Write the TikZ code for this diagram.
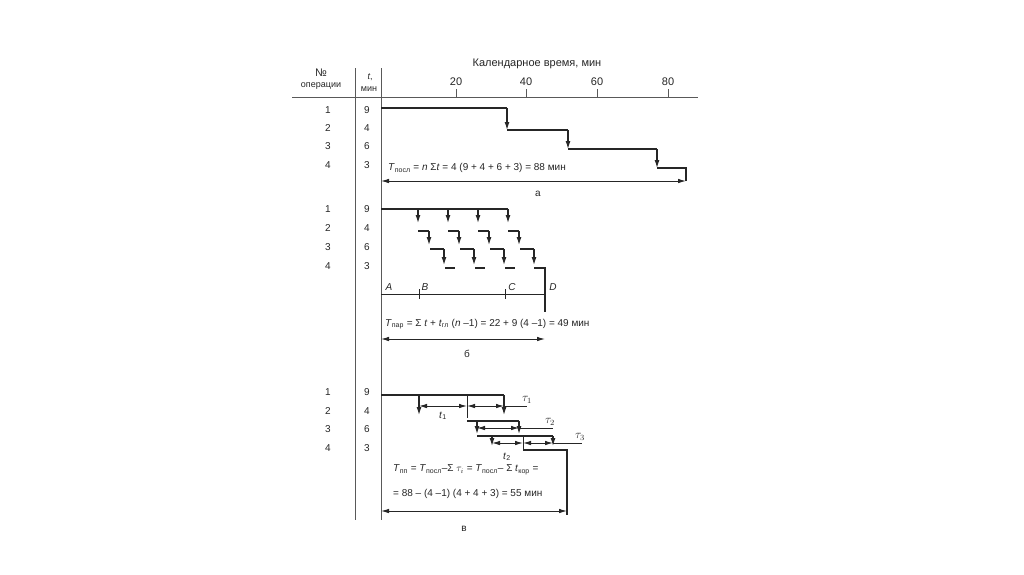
\documentclass[tikz,border=0pt]{standalone}
\usepackage{fontspec}
\setmainfont{Liberation Sans}
\usetikzlibrary{arrows.meta}
\tikzset{
  axisline/.style={draw=black!65, line width=0.9pt},
  gantt/.style={draw=black!85, line width=1.2pt},
  downarr/.style={gantt, -{Latex[length=8pt,width=5pt]}},
  dimline/.style={draw=black!85, line width=0.9pt, {Latex[length=8pt,width=4.5pt]}-{Latex[length=8pt,width=4.5pt]}},
  thin/.style={draw=black!85, line width=0.9pt},
  txt/.style={font=\fontsize{10}{12}\selectfont, text=black!85, inner sep=0pt},
  small/.style={font=\fontsize{9}{11}\selectfont, text=black!85, inner sep=0pt},
  big/.style={font=\fontsize{11}{13}\selectfont, text=black!85, inner sep=0pt},
  taulbl/.style={font=\fontsize{12}{14}\selectfont, text=black!85, inner sep=0pt},
}
\begin{document}
\begin{tikzpicture}[x=1pt,y=-1pt]
\useasboundingbox[fill=white] (0,0) rectangle (1024,574);
% axes
\coordinate (hl) at (292,97); \coordinate (hr) at (698,97);
\coordinate (v1t) at (355,68); \coordinate (v1b) at (355,520);
\coordinate (v2t) at (381,68); \coordinate (v2b) at (381,520);
\draw[axisline] (hl) -- (hr);
\draw[axisline] (v1t) -- (v1b);
\draw[axisline] (v2t) -- (v2b);
% ticks
\foreach \x/\v in {456/20,526/40,597/60,668/80}{
  \draw[axisline] (\x,89) -- (\x,97);
  \node[big] (tick\v) at (\x,82) {\v};
}
\node[big] (title) at (537,64) {Календарное время, мин};
\node[big] (nohead) at (321,73) {№};
\node[small] (ophead) at (321,86) {операции};
\node[small] (thead) at (370,77) {\textit{t},};
\node[small] (minhead) at (369,89) {мин};
% row labels
\foreach \n/\t/\y/\id in {1/9/110/a1,2/4/128/a2,3/6/146/a3,4/3/165/a4,
                          1/9/209/b1,2/4/228/b2,3/6/247/b3,4/3/266/b4,
                          1/9/392/c1,2/4/411/c2,3/6/429/c3,4/3/448/c4}{
  \node[txt] (num\id) at (328,\y) {\n};
  \node[txt] (t\id) at (367,\y) {\t};
}
% ---------- part a ----------
\draw[gantt] (381,108) -- (507,108);
\draw[downarr] (507,108) -- (507,130);
\draw[gantt] (507,130) -- (568,130);
\draw[downarr] (568,130) -- (568,149);
\draw[gantt] (568,149) -- (657,149);
\draw[downarr] (657,149) -- (657,168);
\draw[gantt] (657,168) -- (686,168) -- (686,181);
\coordinate (aL) at (381,181); \coordinate (aR) at (686,181);
\draw[dimline] (aL) -- (aR);
\node[txt, anchor=west] (forma) at (388,168) {\textit{T}\textsubscript{посл} = \textit{n} Σ\textit{t} = 4 (9 + 4 + 6 + 3) = 88 мин};
\node[txt] (labela) at (538,194) {а};
% ---------- part b ----------
\draw[gantt] (381,209) -- (508,209);
\foreach \a in {418,448,478,508}{
  \draw[downarr] (\a,209) -- (\a,223);
  \draw[gantt] (\a,231) -- (\a+11,231);
  \draw[downarr] (\a+11,231) -- (\a+11,245);
  \draw[gantt] (\a+12,249) -- (\a+26,249);
  \draw[downarr] (\a+26,249) -- (\a+26,265);
}
\foreach \a in {418,448,478}{
  \draw[gantt] (\a+27,268) -- (\a+37,268);
}
\draw[gantt] (534,268) -- (545,268) -- (545,312);
\coordinate (A) at (381,294); \coordinate (D) at (545,294);
\draw[thin] (A) -- (D);
\draw[thin] (419,289) -- (419,299);
\draw[thin] (505,289) -- (505,299);
\node[txt] (lA) at (389,287) {\textit{A}};
\node[txt] (lB) at (425,287) {\textit{B}};
\node[txt] (lC) at (512,287) {\textit{C}};
\node[txt] (lD) at (553,287) {\textit{D}};
\node[txt, anchor=west] (formb) at (385,324) {\textit{T}\textsubscript{пар} = Σ \textit{t} + \textit{t}\textsubscript{гл} (\textit{n} –1) = 22 + 9 (4 –1) = 49 мин};
\coordinate (bL) at (381,339); \coordinate (bR) at (545,339);
\draw[dimline] (bL) -- (bR);
\node[txt] (labelb) at (467,354) {б};
% ---------- part c ----------
\draw[gantt] (381,395) -- (504,395);
\draw[downarr] (419,395) -- (419,415);
\draw[downarr] (504,395) -- (504,415);
\draw[thin] (467,395) -- (467,418);
\draw[dimline] (419,406) -- (467,406);
\draw[dimline] (467,406) -- (504,406);
\draw[thin] (504,406) -- (527,406);
\node[taulbl] (tau1) at (527,400) {$\tau_1$};
\node[txt] (lt1) at (443,416) {\textit{t}\textsubscript{1}};
\draw[gantt] (467,421) -- (519,421);
\draw[downarr] (477,421) -- (477,434);
\draw[downarr] (519,421) -- (519,434);
\draw[dimline] (477,428) -- (519,428);
\draw[thin] (519,428) -- (553,428);
\node[taulbl] (tau2) at (550,422) {$\tau_2$};
\draw[gantt] (477,436) -- (553,436);
\draw[downarr] (492,436) -- (492,446);
\draw[downarr] (553,436) -- (553,446);
\draw[thin] (523,436) -- (523,450);
\draw[dimline] (492,443) -- (523,443);
\draw[dimline] (523,443) -- (553,443);
\draw[thin] (553,443) -- (582,443);
\node[taulbl] (tau3) at (580,437) {$\tau_3$};
\node[txt] (lt2) at (507,457) {\textit{t}\textsubscript{2}};
\draw[gantt] (523,450) -- (567,450) -- (567,515);
\node[txt, anchor=west] (formc1) at (393,470) {\textit{T}\textsubscript{пп} = \textit{T}\textsubscript{посл}–Σ $\tau_i$ = \textit{T}\textsubscript{посл}– Σ \textit{t}\textsubscript{кор} =};
\node[txt, anchor=west] (formc2) at (393,494) {= 88 – (4 –1) (4 + 4 + 3) = 55 мин};
\coordinate (cL) at (381,511); \coordinate (cR) at (567,511);
\draw[dimline] (cL) -- (cR);
\node[txt] (labelc) at (464,529) {в};
\end{tikzpicture}
\end{document}
